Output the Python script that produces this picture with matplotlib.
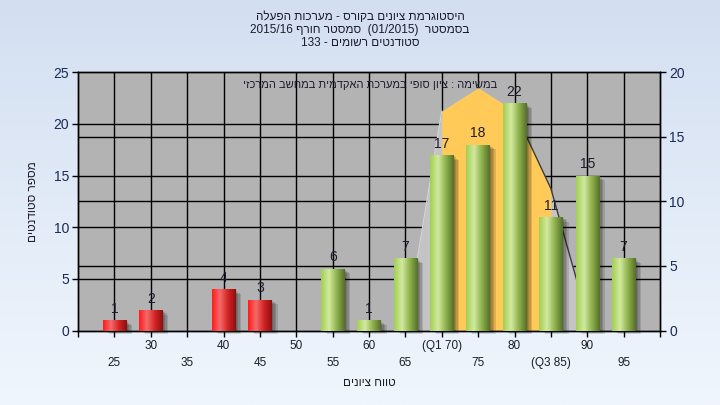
import numpy as np
import matplotlib
matplotlib.use("Agg")
import matplotlib.pyplot as plt
from matplotlib.colors import LinearSegmentedColormap
from matplotlib.patches import Rectangle
from matplotlib.lines import Line2D
from matplotlib.transforms import blended_transform_factory

FONT = ['Liberation Sans Narrow', 'Liberation Sans', 'DejaVu Sans']
plt.rcParams['font.family'] = FONT

def heb(s):
    # matplotlib has no bidi: hebrew runs are written in visual order
    return s[::-1]

# data
bins = [25, 30, 35, 40, 45, 50, 55, 60, 65, 70, 75, 80, 85, 90, 95]
counts = [1, 2, 0, 4, 3, 0, 6, 1, 7, 17, 18, 22, 11, 15, 7]
pass_grade = 55
upper_ticks = [20, 30, 40, 50, 60, 70, 80, 90, 100]
upper_labels = ['', '30', '40', '50', '60', '(Q1 70)', '80', '90', '']
lower_ticks = [25, 35, 45, 55, 65, 75, 85, 95]
lower_labels = ['25', '35', '45', '55', '65', '75', '(Q3 85)', '95']
curve_x = [65, 70, 75, 80, 85, 90]
curve_y = [0, 17, 18.8, 17, 11, 1]
q1, q3 = 70, 85
left_ticks = [0, 5, 10, 15, 20, 25]
right_ticks = [0, 5, 10, 15, 20]

title = "\n".join([
    heb("היסטוגרמת ציונים בקורס - מערכות הפעלה"),
    "2015/16 " + heb("סמסטר חורף") + "  (01/2015)  " + heb("בסמסטר"),
    "133 - " + heb("סטודנטים רשומים"),
])
note = heb("במשימה : ציון סופי במערכת האקדמית במחשב המרכזי")
xlab = heb("טווח ציונים")
ylab = heb("מספר סטודנטים")

TXT = "#1c1c2c"; TICK = "#1a2a5a"; PLOT = "#b3b3b3"; YEL = "#ffca58"; LIGHT = "#c4c4c4"
red = LinearSegmentedColormap.from_list('r', ['#ff1c1c', '#f46a6a', '#d42424', '#8c1010'])
green = LinearSegmentedColormap.from_list('g', ['#a2cf52', '#d2e9a0', '#8fb24c', '#55702a'])

fig = plt.figure(figsize=(7.2, 4.05), dpi=100)
bg = fig.add_axes([0, 0, 1, 1], zorder=-10)
bg.imshow(np.linspace(0, 1, 256)[:, None], aspect='auto', extent=[0, 1, 0, 1],
          cmap=LinearSegmentedColormap.from_list('bg', ['#d3dff1', '#f0f6fd']))
bg.axis('off')

pos = [78/720, 1-330.5/405, 582/720, 258.2/405]
ax = fig.add_axes(pos)
axr = ax.twinx()
axr.set_zorder(ax.get_zorder()-1)
ax.patch.set_visible(False)
axr.patch.set_visible(True); axr.patch.set_facecolor(PLOT)

ax.set_xlim(20, 100); ax.set_ylim(0, 25)
axr.set_ylim(0, 20)

# grid (under the area)
for b in bins:
    axr.axvline(b, color='k', lw=1, zorder=0.5)
for t in right_ticks[1:-1]:
    axr.axhline(t, color='k', lw=1, zorder=0.5)
tr = blended_transform_factory(axr.transAxes, ax.transData)
for t in left_ticks[1:-1]:
    axr.add_line(Line2D([0, 1], [t, t], transform=tr, color='k', lw=1, zorder=0.5))

# area / curve on right axis
cx = np.array(curve_x); cy = np.array(curve_y)
axr.fill_between(cx, cy, color=LIGHT, lw=0, zorder=1)
m = (cx >= q1) & (cx <= q3)
axr.fill_between(cx[m], cy[m], color=YEL, lw=0, zorder=1.2)
axr.plot(cx[:2], cy[:2], color='#d6d6d6', lw=0.8, zorder=2)
k = (cx >= 80)
axr.plot(cx[k], cy[k], color='#3c3c3c', lw=1, zorder=2)

# bars with gradient + soft shadow
w = 3.2
ux = 80/582; uy = 25/258.2
grad = np.linspace(0, 1, 64)[None, :]
for x, c in zip(bins, counts):
    if c == 0:
        continue
    x0 = x - w/2
    for d in [1.5, 3, 4.5, 6]:
        ax.add_patch(Rectangle((x0 + d*ux, -d*uy*0.5), w, c - d*uy*0.3, color='k',
                               alpha=0.13, lw=0, zorder=2, clip_on=False))
    ax.imshow(grad, extent=[x0, x0 + w, 0, c], aspect='auto', zorder=3,
              cmap=red if x < pass_grade else green, interpolation='bilinear')
    ax.annotate(str(c), (x, c), xytext=(0, 3), textcoords='offset points',
                ha='center', va='bottom', fontsize=10, color=TXT, zorder=5)
ax.set_xlim(20, 100); ax.set_ylim(0, 25)

# axes, ticks
for a in (ax, axr):
    for s in a.spines.values():
        s.set_color('k'); s.set_linewidth(1)
ax.set_yticks(left_ticks)
ax.tick_params(axis='y', length=4, width=1, pad=2.5, labelsize=10, labelcolor=TICK)
axr.set_yticks(right_ticks)
axr.tick_params(axis='y', length=4, width=1, pad=2.5, labelsize=10, labelcolor=TICK)
ax.set_xticks(upper_ticks)
ax.set_xticklabels(upper_labels)
ax.set_xticks(lower_ticks, minor=True)
ax.set_xticklabels(lower_labels, minor=True)
ax.tick_params(axis='x', which='major', length=4, width=1, pad=2.5, labelsize=8.5, labelcolor=TXT)
ax.tick_params(axis='x', which='minor', length=4, width=1, pad=15, labelsize=8.5, labelcolor=TXT)

ax.set_xlabel(xlab, fontsize=8.5, color=TXT, labelpad=6)
ax.set_ylabel(ylab, fontsize=8.5, color=TXT, labelpad=10)
ax.text(0.502, 0.951, note, transform=ax.transAxes, ha='center', va='center',
        fontsize=8, color=TXT, zorder=6)
fig.text(0.5, 1-11/405, title, ha='center', va='top', fontsize=8.5, color=TXT,
         linespacing=1.1)

fig.savefig("out.png", dpi=100)
